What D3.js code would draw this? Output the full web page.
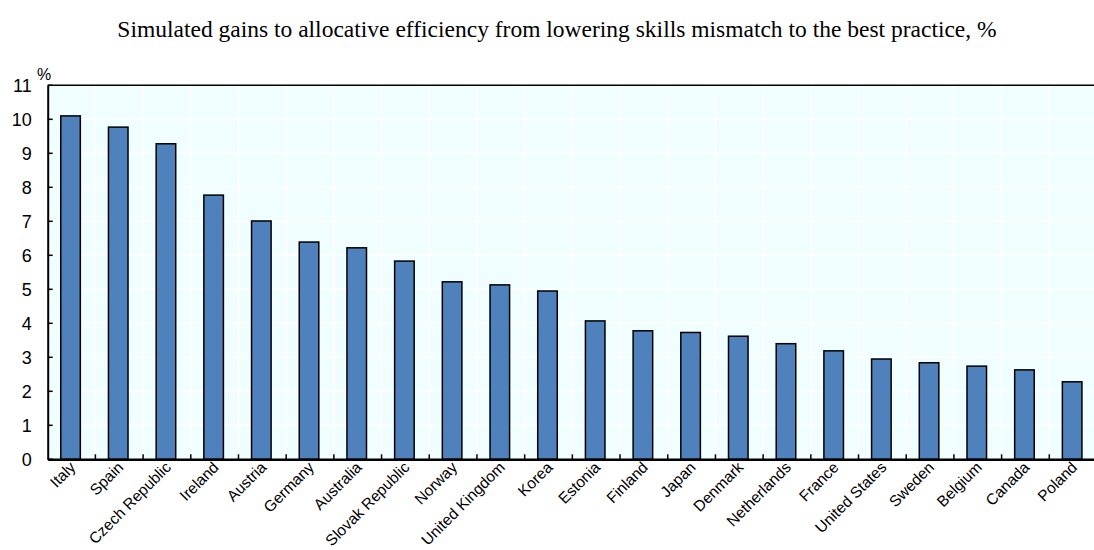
<!DOCTYPE html>
<html><head><meta charset="utf-8">
<script src="https://cdn.jsdelivr.net/npm/d3@7"></script>
<style>body{margin:0;background:#fff}svg{display:block}</style>
</head><body>
<script>
const categories = ["Italy","Spain","Czech Republic","Ireland","Austria","Germany","Australia","Slovak Republic","Norway","United Kingdom","Korea","Estonia","Finland","Japan","Denmark","Netherlands","France","United States","Sweden","Belgium","Canada","Poland"];
const values = [10.1,9.77,9.28,7.77,7.01,6.39,6.22,5.83,5.22,5.13,4.95,4.07,3.78,3.73,3.62,3.40,3.19,2.95,2.84,2.74,2.63,2.28];
const yTicks = [0,1,2,3,4,5,6,7,8,9,10,11];
const title = "Simulated gains to allocative efficiency from lowering skills mismatch to the best practice, %";

(function(){
const W=1094,H=550;
const svg=d3.select("body").append("svg").attr("width",W).attr("height",H);
const pL=47.7, pR=1097, pT=85.3, pB=459.3;
const x=d3.scaleBand().domain(categories).range([pL,pR]).paddingInner(0).paddingOuter(0);
const y=d3.scaleLinear().domain([0,11]).range([pB,pT]);

svg.append("rect").attr("x",pL).attr("y",pT).attr("width",pR-pL).attr("height",pB-pT).attr("fill","#f0feff");
svg.append("g").selectAll("line").data(yTicks.slice(1,-1)).join("line")
  .attr("x1",pL).attr("x2",pR).attr("y1",d=>y(d)).attr("y2",d=>y(d))
  .attr("stroke","#fff").attr("stroke-width",1.5);
svg.append("g").selectAll("line").data(categories.slice(1)).join("line")
  .attr("x1",d=>x(d)).attr("x2",d=>x(d)).attr("y1",pT).attr("y2",pB)
  .attr("stroke","#fff").attr("stroke-width",1.5);

const bw=x.bandwidth()*0.41;
svg.append("g").selectAll("rect").data(values).join("rect")
  .attr("x",(d,i)=>x(categories[i])+x.bandwidth()/2-bw/2-1)
  .attr("y",d=>y(d)).attr("width",bw).attr("height",d=>pB-y(d))
  .attr("fill","#4f81bd").attr("stroke","#000").attr("stroke-width",1.5);

svg.append("line").attr("x1",pL).attr("x2",pR).attr("y1",pT).attr("y2",pT).attr("stroke","#000").attr("stroke-width",1.5);

const ya=svg.append("g").attr("transform",`translate(${pL},0)`)
  .call(d3.axisLeft(y).tickValues(yTicks).tickSize(0).tickPadding(16));
ya.select(".domain").attr("stroke","#000").attr("stroke-width",2);
ya.selectAll("text").attr("font-family","Liberation Sans, Arial, sans-serif").attr("font-size",18).attr("fill","#000");
svg.append("g").selectAll("line").data(yTicks).join("line")
  .attr("x1",pL).attr("x2",pL+5).attr("y1",d=>y(d)).attr("y2",d=>y(d)).attr("stroke","#000").attr("stroke-width",1.5);

const xa=svg.append("g").attr("transform",`translate(0,${pB})`)
  .call(d3.axisBottom(x).tickSize(0).tickPadding(0));
xa.select(".domain").attr("stroke","#000").attr("stroke-width",2.5);
xa.selectAll("text").attr("font-family","Liberation Sans, Arial, sans-serif").attr("font-size",15.5).attr("fill","#000")
  .attr("text-anchor","end").attr("dy","0").attr("transform","translate(5,9) rotate(-45)");
svg.append("g").selectAll("line").data(categories.slice(1)).join("line")
  .attr("x1",d=>x(d)).attr("x2",d=>x(d)).attr("y1",pB).attr("y2",pB-5).attr("stroke","#000").attr("stroke-width",1.5);

svg.append("text").attr("x",44).attr("y",80).attr("text-anchor","middle")
  .attr("font-family","Liberation Sans, Arial, sans-serif").attr("font-size",16).text("%");
svg.append("text").attr("x",557).attr("y",37).attr("text-anchor","middle")
  .attr("font-family","Liberation Serif, Times New Roman, serif").attr("font-size",23.5).text(title);
})();
</script>
</body></html>
